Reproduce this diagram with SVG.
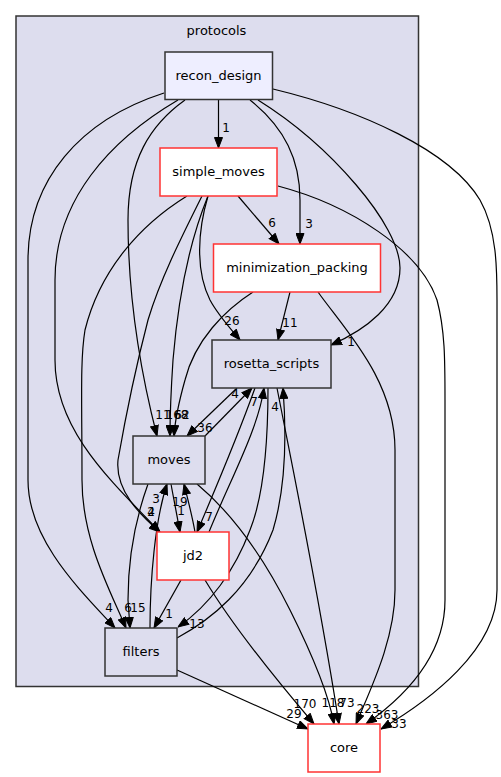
<svg xmlns="http://www.w3.org/2000/svg" width="501" height="777" viewBox="0 0 501 777">
<style>
text{font-family:"DejaVu Sans","Noto Sans",sans-serif;fill:#000}
.nl{font-size:13px;text-anchor:middle}
.el{font-size:12px;text-anchor:middle}
.e{fill:none;stroke:#000;stroke-width:1.2;marker-end:url(#ah)}
.g{fill:#ddddee;stroke:#333;stroke-width:1.5}
.r{fill:#fff;stroke:#ff3333;stroke-width:1.5}
</style>
<defs>
<marker id="ah" markerUnits="userSpaceOnUse" markerWidth="11" markerHeight="9" refX="11" refY="4.5" orient="auto" viewBox="0 0 11 9">
<path d="M0.5,0.5 L11,4.5 L0.5,8.5 z" fill="#000" stroke="#000" stroke-width="1"/>
</marker>
</defs>
<rect width="501" height="777" fill="#fff"/>
<g id="cluster_protocols">
<rect x="16" y="16" width="402.5" height="670.5" fill="#ddddee" stroke="#333" stroke-width="1.5"/>
<text class="nl" x="216.5" y="35">protocols</text>
</g>
<g id="edges">
<path class="e" d="M218.5,100 L218.5,148"/>
<path class="e" d="M250,100 C285,128 300,160 300,200 L300,244"/>
<path class="e" d="M258,100 C330,145 400,225 400,268 C400,305 365,330 331,345"/>
<path class="e" d="M273,89 C360,110 450,150 480,200 C497,230 497,270 497,300 L497,590 C497,650 430,700 381,729"/>
<path class="e" d="M185,100 C150,125 128,160 128,220 C128,300 140,370 157,436"/>
<path class="e" d="M178,100 C110,140 55,200 55,280 L55,360 C55,430 110,480 160,532"/>
<path class="e" d="M164,93 C80,120 28,180 28,260 L28,480 C28,540 80,590 115,628"/>
<path class="e" d="M238,196 L279,244"/>
<path class="e" d="M208,196 C198,230 195,270 210,300 C218,315 230,328 240,340"/>
<path class="e" d="M208,196 C190,240 178,300 173,360 C171,390 170,410 170,436"/>
<path class="e" d="M202,196 C180,240 160,280 148,320 C135,370 125,420 118,460 C115,490 140,515 160,532"/>
<path class="e" d="M187,196 C140,225 100,270 85,330 C80,360 82,400 82,480 C82,540 110,590 126,628"/>
<path class="e" d="M278,186 C350,205 420,250 437,300 C445,330 445,360 445,400 L445,600 C445,660 400,700 366,724"/>
<path class="e" d="M290,292 L278,340"/>
<path class="e" d="M253,292 C225,310 195,340 185,380 C178,405 175,420 174,436"/>
<path class="e" d="M318,292 C345,330 395,380 395,450 L395,590 C395,640 370,690 356,724"/>
<path class="e" d="M237,388 L187,436"/>
<path class="e" d="M205,436 L252,388"/>
<path class="e" d="M255,388 C240,430 215,490 197,532"/>
<path class="e" d="M209,532 C230,480 258,430 264,388"/>
<path class="e" d="M268,388 C268,450 262,500 250,530 C235,570 210,605 178,627"/>
<path class="e" d="M177,638 C210,620 250,590 273,530 C285,490 287,440 283,388"/>
<path class="e" d="M277,388 C295,480 318,590 339,724"/>
<path class="e" d="M197,484 C240,520 270,570 290,610 C310,650 328,690 334,724"/>
<path class="e" d="M205,580 C235,630 285,690 314,724"/>
<path class="e" d="M177,670 L308,729"/>
<path class="e" d="M171,484 L180,532"/>
<path class="e" d="M195,532 C192,515 188,500 184,484"/>
<path class="e" d="M150,628 C150,580 155,520 167,484"/>
<path class="e" d="M148,484 C135,520 128,560 128,600 L130,628"/>
<path class="e" d="M181,580 L154,628"/>
<text class="el" x="226" y="132">1</text>
<text class="el" x="272" y="227">6</text>
<text class="el" x="309" y="228">3</text>
<text class="el" x="232" y="325">26</text>
<text class="el" x="290" y="327">11</text>
<text class="el" x="351" y="346">1</text>
<text class="el" x="235" y="398">4</text>
<text class="el" x="254" y="406">7</text>
<text class="el" x="275" y="411">4</text>
<text class="el" x="163" y="419">11</text>
<text class="el" x="177" y="419">168</text>
<text class="el" x="182" y="419">62</text>
<text class="el" x="205" y="432">36</text>
<text class="el" x="156" y="503">3</text>
<text class="el" x="180" y="506">19</text>
<text class="el" x="181" y="515">1</text>
<text class="el" x="151" y="516">4</text>
<text class="el" x="151" y="516">2</text>
<text class="el" x="209" y="521">7</text>
<text class="el" x="109" y="612">4</text>
<text class="el" x="128" y="612">6</text>
<text class="el" x="138" y="612">15</text>
<text class="el" x="169" y="618">1</text>
<text class="el" x="197" y="628">13</text>
<text class="el" x="305" y="708">170</text>
<text class="el" x="294" y="718">29</text>
<text class="el" x="333" y="707">118</text>
<text class="el" x="347" y="707">73</text>
<text class="el" x="368" y="713">223</text>
<text class="el" x="387" y="719">363</text>
<text class="el" x="399" y="728">33</text>
</g>
<g id="node_recon_design">
<rect x="165" y="52" width="107.5" height="47.5" fill="#eeeeff" stroke="#333" stroke-width="1.5"/>
<text class="nl" x="218.5" y="80">recon_design</text>
</g>
<g id="node_simple_moves">
<rect class="r" x="160" y="148" width="117" height="48"/>
<text class="nl" x="218.5" y="176">simple_moves</text>
</g>
<g id="node_minimization_packing">
<rect class="r" x="213.5" y="244" width="167" height="48"/>
<text class="nl" x="297" y="272">minimization_packing</text>
</g>
<g id="node_rosetta_scripts">
<rect class="g" x="212" y="340" width="119" height="48"/>
<text class="nl" x="271.5" y="368">rosetta_scripts</text>
</g>
<g id="node_moves">
<rect class="g" x="133" y="436" width="72" height="48"/>
<text class="nl" x="169" y="464">moves</text>
</g>
<g id="node_jd2">
<rect class="r" x="157" y="532" width="72" height="48"/>
<text class="nl" x="193" y="560">jd2</text>
</g>
<g id="node_filters">
<rect class="g" x="105" y="628" width="72" height="48"/>
<text class="nl" x="141" y="656">filters</text>
</g>
<g id="node_core">
<rect class="r" x="308" y="724" width="72" height="48"/>
<text class="nl" x="344" y="752">core</text>
</g>
</svg>
